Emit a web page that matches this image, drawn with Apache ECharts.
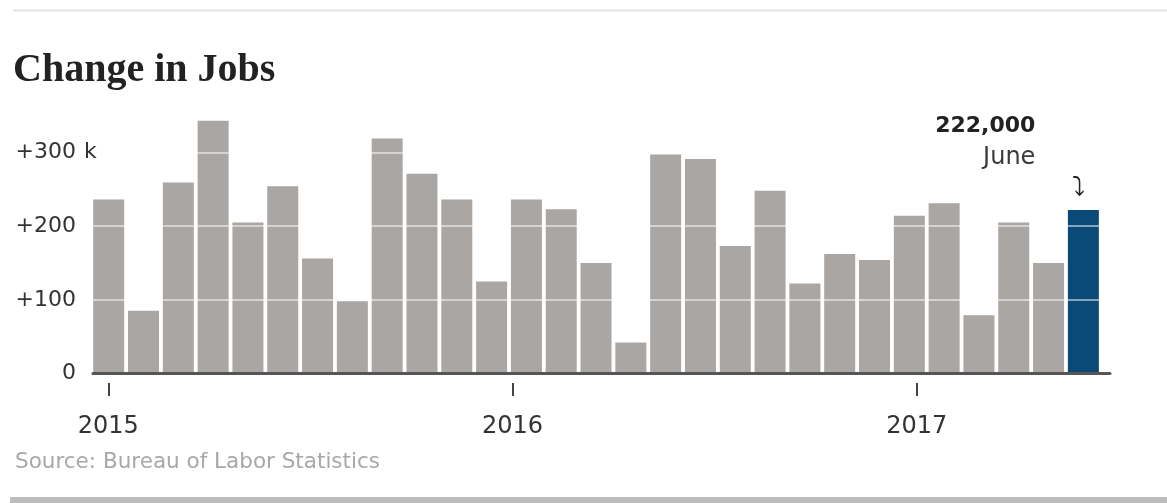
<!DOCTYPE html>
<html><head><meta charset="utf-8">
<script src="https://cdn.jsdelivr.net/npm/echarts@6/dist/echarts.min.js"></script>
<style>html,body{margin:0;padding:0;background:#fff}#c{width:1167px;height:503px}</style>
</head><body><div id="c"></div>
<script>
// Monthly change in payroll jobs (thousands), Feb 2015 – Jun 2017
const months = ['2015-02','2015-03','2015-04','2015-05','2015-06','2015-07','2015-08','2015-09','2015-10','2015-11','2015-12',
  '2016-01','2016-02','2016-03','2016-04','2016-05','2016-06','2016-07','2016-08','2016-09','2016-10','2016-11','2016-12',
  '2017-01','2017-02','2017-03','2017-04','2017-05','2017-06'];
const jobs = [236,85,259,343,205,254,156,98,319,271,236,125,236,223,150,42,297,291,173,248,122,162,154,214,231,79,205,150,222];
const monthNames = ['January','February','March','April','May','June','July','August','September','October','November','December'];
const yearTicks = [2015,2016,2017];
const yTickLabels = {0:'0',100:'+100',200:'+200',300:'+300'};
const unitLabel = {300:'k'};

const GRAY = '#a9a6a3', BLUE = '#0b4a78';
const last = jobs.length - 1;
const FONT = 'DejaVu Sans';

const barData = jobs.map((v, i) => i === last ? { value: [i, v], itemStyle: { color: BLUE } } : [i, v]);

const chart = echarts.init(document.getElementById('c'), null, { renderer: 'canvas' });
chart.setOption({
  animation: false,
  backgroundColor: '#fff',
  title: [
    { text: 'Change in Jobs', left: 8, top: 46,
      textStyle: { fontFamily: 'Liberation Serif', fontWeight: 'bold', fontSize: 40, color: '#222' } },
    { text: 'Source: Bureau of Labor Statistics', left: 10, top: 446,
      textStyle: { fontFamily: FONT, fontWeight: 'normal', fontSize: 21.5, color: '#a8a8a8' } }
  ],
  graphic: [
    { type: 'line', shape: { x1: 13, y1: 10.5, x2: 1167, y2: 10.5 }, style: { stroke: '#e2e2e2', lineWidth: 2 } },
    { type: 'rect', shape: { x: 10, y: 497, width: 1157, height: 6 }, style: { fill: '#bdbdbd' } }
  ],
  grid: { left: 93, right: 57, top: 78.7, bottom: 129.5 },
  xAxis: [
    { type: 'value', min: -0.451, max: 28.765, z: 6,
      axisLine: { show: true, onZero: false, lineStyle: { color: '#555', width: 3 } },
      axisTick: { show: false }, axisLabel: { show: false }, splitLine: { show: false } },
    { type: 'value', position: 'bottom', offset: 9.5, min: 2014.9621, max: 2017.4782,
      axisLine: { show: false, onZero: false },
      axisTick: { show: true, customValues: yearTicks, length: 13, lineStyle: { color: '#444', width: 2 } },
      axisLabel: { customValues: yearTicks, formatter: v => String(v), margin: 32,
        fontFamily: FONT, fontSize: 24, color: '#333' },
      splitLine: { show: false } }
  ],
  yAxis: [
    { type: 'value', min: 0, max: 400, interval: 100, z: 5,
      axisLine: { show: false, onZero: false }, axisTick: { show: false },
      splitLine: { show: true, lineStyle: { color: 'rgba(255,255,255,0.5)', width: 2 } },
      axisLabel: { margin: 17, fontFamily: FONT, fontSize: 22, color: '#333',
        formatter: v => yTickLabels[v] !== undefined ? yTickLabels[v] : '' } },
    { type: 'value', position: 'left', min: 0, max: 400, interval: 100,
      axisLine: { show: false, onZero: false }, axisTick: { show: false }, splitLine: { show: false },
      axisLabel: { align: 'left', margin: 9, fontFamily: FONT, fontSize: 22, color: '#333',
        formatter: v => unitLabel[v] || '' } }
  ],
  series: [
    { type: 'bar', xAxisIndex: 0, yAxisIndex: 0, barWidth: 31, z: 2,
      itemStyle: { color: GRAY },
      data: barData },
    { type: 'scatter', xAxisIndex: 0, yAxisIndex: 0, z: 8, symbolSize: 0, silent: true,
      itemStyle: { opacity: 1 },
      data: [[last, jobs[last]]],
      label: {
        show: true, position: 'top', distance: 6, align: 'right', verticalAlign: 'bottom', offset: [2, 0],
        formatter: p => {
          const val = (p.value[1] * 1000).toLocaleString('en-US');
          const m = monthNames[parseInt(months[p.value[0]].slice(5), 10) - 1];
          return '{v|' + val + '}\n{m|' + m + '}\n{a|\u2935}';
        },
        rich: {
          v: { fontFamily: FONT, fontWeight: 'bold', fontSize: 22, color: '#222', lineHeight: 31, align: 'right', padding: [0, 50, 0, 0] },
          m: { fontFamily: FONT, fontSize: 24, color: '#3a3a3a', lineHeight: 31, align: 'right', padding: [0, 50, 0, 0] },
          a: { fontFamily: FONT, fontSize: 26, color: '#222', lineHeight: 31, align: 'right' }
        }
      } }
  ]
});
</script></body></html>
